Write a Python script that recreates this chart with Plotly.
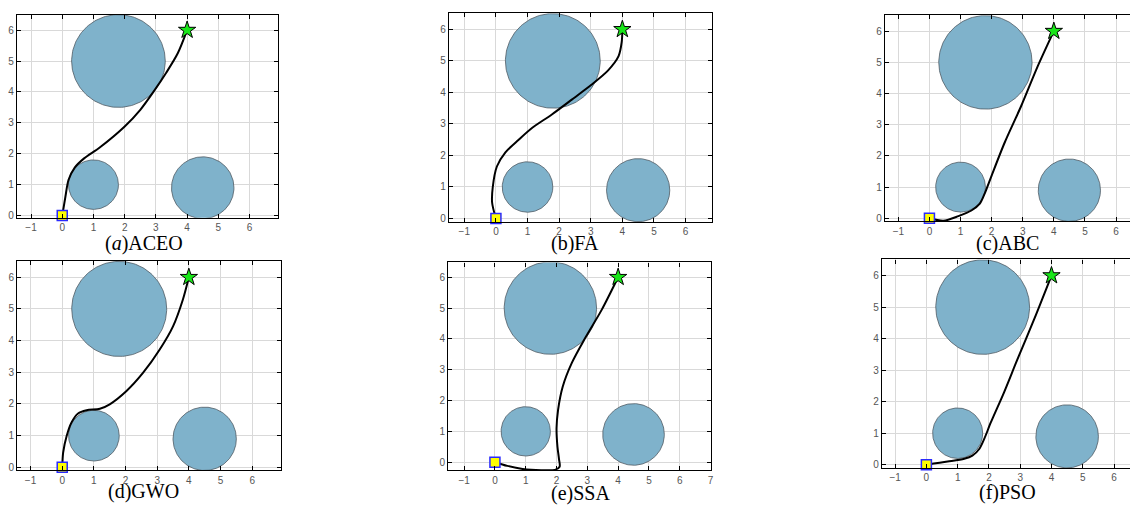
import numpy as np
import plotly.graph_objects as go

# the page body has an 8px default margin; the figure is sized to fill the rest of the window
OFF = 8
W, H = 1138 - OFF, 505 - OFF

# ---------------- data ----------------
obs_cx = [1.8, 1.0, 4.5]
obs_cy = [5.0, 1.0, 0.9]
obs_r = [1.5, 0.8, 1.0]
start_pt = [0.0, 0.0]
goal_pt = [4.0, 6.0]

labels = ["(<i>a</i>)ACEO", "(b)FA", "(c)ABC", "(d)GWO", "(e)SSA", "(f)PSO"]

aceo_x = [0, 0.1, 0.2, 0.4, 0.7, 1.2, 2.0, 2.5, 2.92, 3.33, 3.7, 4.0]
aceo_y = [0, 0.6, 1.15, 1.55, 1.85, 2.2, 2.88, 3.42, 4.0, 4.62, 5.25, 6.0]

fa_x = [0, -0.12, -0.1, 0.03, 0.3, 0.72, 1.15, 1.77, 2.4, 3.03, 3.55, 3.88, 3.98, 4.0]
fa_y = [0, 0.5, 1.0, 1.65, 2.1, 2.5, 2.88, 3.3, 3.77, 4.25, 4.7, 5.15, 5.6, 6.0]

abc_x = [0, 0.45, 0.93, 1.35, 1.62, 1.78, 2.0, 2.42, 2.95, 3.48, 4.0]
abc_y = [0, -0.08, 0.07, 0.25, 0.47, 0.8, 1.37, 2.43, 3.6, 4.87, 6.0]

gwo_x = [0, 0.03, 0.14, 0.29, 0.5, 0.77, 1.19, 1.5, 2.03, 2.55, 3.08, 3.5, 3.81, 4.0]
gwo_y = [0, 0.47, 0.99, 1.41, 1.7, 1.8, 1.85, 1.99, 2.41, 2.98, 3.72, 4.45, 5.29, 6.0]

ssa_x = [0, 0.4, 0.9, 1.5, 1.95, 2.1, 2.08, 2.03, 2.0, 2.05, 2.2, 2.5, 2.93, 3.47, 4.0]
ssa_y = [0, -0.12, -0.22, -0.26, -0.25, -0.15, 0.1, 0.5, 1.1, 1.7, 2.45, 3.23, 4.03, 4.95, 6.0]

pso_x = [0, 0.68, 1.21, 1.47, 1.69, 1.85, 2.06, 2.48, 2.91, 3.44, 4.0]
pso_y = [0, 0.1, 0.19, 0.29, 0.5, 0.82, 1.34, 2.29, 3.34, 4.6, 6.0]

paths = [(aceo_x, aceo_y), (fa_x, fa_y), (abc_x, abc_y),
         (gwo_x, gwo_y), (ssa_x, ssa_y), (pso_x, pso_y)]

xticks_std = [-1, 0, 1, 2, 3, 4, 5, 6]
xticks_ssa = [-1, 0, 1, 2, 3, 4, 5, 6, 7]
yticks = [0, 1, 2, 3, 4, 5, 6]

# ---------------- layout (window pixel boxes: left, right, top, bottom) ----------------
boxes = [
    (17, 279, 15, 219),
    (450, 714, 13.3, 223.3),
    (887.3, 1138, 15.3, 222.7),
    (17.3, 281.7, 262.3, 473.3),
    (449.3, 712.7, 264, 473.3),
    (884.3, 1138, 261, 471),
]
xranges = [(-1.45, 6.92), (-1.49, 6.84), (-1.43, 6.61),
           (-1.42, 6.91), (-1.52, 7.01), (-1.42, 6.67)]
yranges = [(-0.07, 6.49), (-0.11, 6.51), (-0.1, 6.51),
           (-0.1, 6.52), (-0.27, 6.48), (-0.11, 6.51)]
label_pos = [(144, 245), (577, 245), (1010, 245), (144, 494), (582, 496), (1010, 495)]


def fx(px):
    return min(max((px - OFF) / W, 0.0), 1.0)


def fy(py):
    return min(max(1 - (py - OFF) / H, 0.0), 1.0)


fig = go.Figure()
theta = np.linspace(0, 2 * np.pi, 181)

tickfont = dict(family="Liberation Sans, Arial, sans-serif", size=10, color="#555555")
axis_common = dict(
    showgrid=True, gridcolor="#d9d9d9", gridwidth=1.3, zeroline=False,
    showline=True, linecolor="black", linewidth=1.2,
    ticks="inside", ticklen=4, tickcolor="black", tickwidth=1,
    tickfont=tickfont, fixedrange=True,
)

for i in range(6):
    sfx = "" if i == 0 else str(i + 1)
    xa, ya = "x" + sfx, "y" + sfx
    # obstacles
    for cx, cy, r in zip(obs_cx, obs_cy, obs_r):
        fig.add_trace(go.Scatter(
            x=cx + r * np.cos(theta), y=cy + r * np.sin(theta),
            mode="lines", fill="toself", fillcolor="#7fb2cb",
            line=dict(color="#4f5b63", width=0.8),
            xaxis=xa, yaxis=ya, showlegend=False, hoverinfo="skip"))
    # path
    px, py = paths[i]
    fig.add_trace(go.Scatter(
        x=px, y=py, mode="lines", line=dict(color="black", width=2, shape="spline", smoothing=0.8),
        xaxis=xa, yaxis=ya, showlegend=False))
    # start
    fig.add_trace(go.Scatter(
        x=[start_pt[0]], y=[start_pt[1]], mode="markers",
        marker=dict(symbol="square", size=10, color="#ffff00", line=dict(color="#2a2aff", width=1.5)),
        xaxis=xa, yaxis=ya, showlegend=False, cliponaxis=False))
    # goal
    fig.add_trace(go.Scatter(
        x=[goal_pt[0]], y=[goal_pt[1]], mode="markers",
        marker=dict(symbol="star", size=13, color="#19e619", line=dict(color="black", width=1)),
        xaxis=xa, yaxis=ya, showlegend=False, cliponaxis=False))

    l, r, t, b = boxes[i]
    right_cut = r >= 1138 - 1
    xaxis = dict(axis_common, domain=[fx(l), fx(r)], range=list(xranges[i]),
                 tickvals=xticks_ssa if i == 4 else xticks_std,
                 mirror="ticks", anchor=ya)
    yaxis = dict(axis_common, domain=[fy(b), fy(t)], range=list(yranges[i]),
                 tickvals=yticks, mirror=False if right_cut else "ticks", anchor=xa)
    fig.layout["xaxis" + sfx] = xaxis
    fig.layout["yaxis" + sfx] = yaxis

    lx, ly = label_pos[i]
    fig.add_annotation(text=labels[i], x=fx(lx), y=fy(ly), xref="paper", yref="paper",
                       showarrow=False, xanchor="center", yanchor="middle", borderpad=0,
                       font=dict(family="Liberation Serif, Times New Roman, serif", size=20, color="black"))

fig.update_layout(
    width=W, height=H, margin=dict(l=0, r=0, t=0, b=0),
    paper_bgcolor="white", plot_bgcolor="white", showlegend=False,
)

fig.write_html("out.html", config={"displayModeBar": False})
